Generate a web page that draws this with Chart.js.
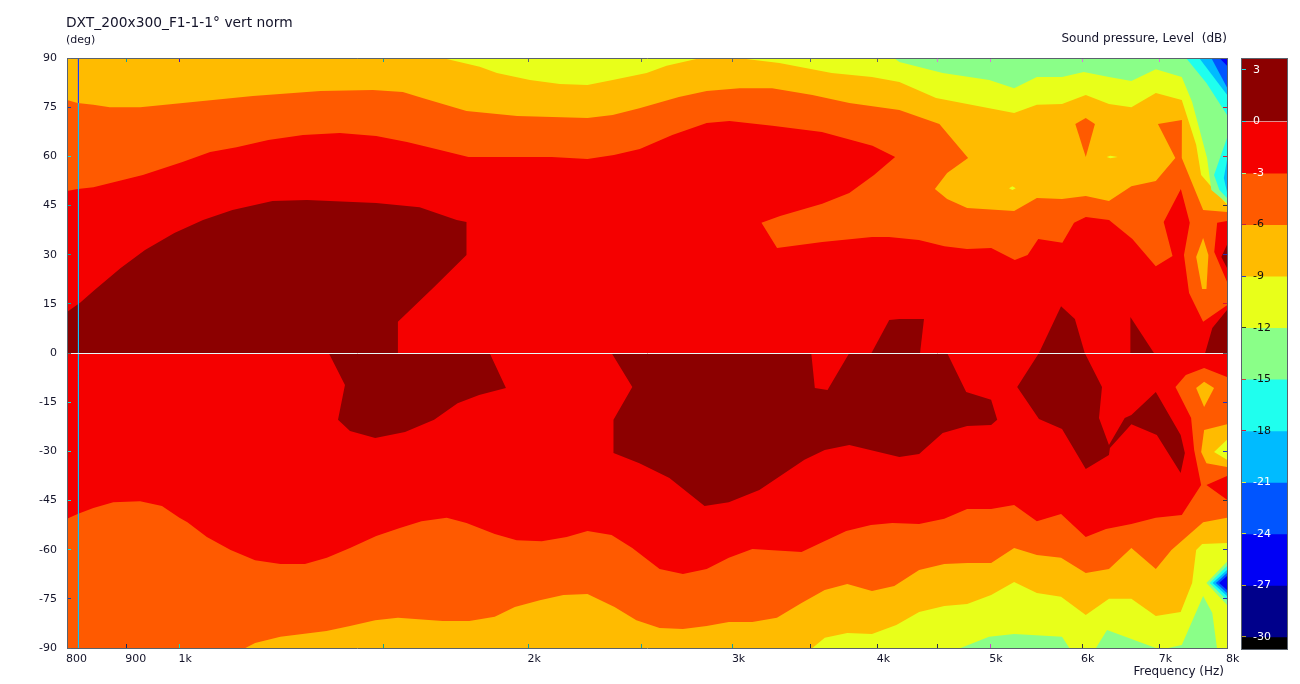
<!DOCTYPE html>
<html>
<head>
<meta charset="utf-8">
<title>DXT_200x300_F1-1-1° vert norm</title>
<script src="https://cdn.jsdelivr.net/npm/chart.js@4"></script>
<style>
    html, body { margin: 0; background: #fff; }
    #chart { position: absolute; left: 0; top: 0; }
    #scaleBox { position: absolute; left: 1241px; top: 58px; width: 45px; height: 590px; border: 1px solid #5a626c; box-sizing: content-box; }
    #scale { display: block; }
</style>
</head>
<body>
<canvas id="chart" width="1300" height="684"></canvas>
<div id="scaleBox"><canvas id="scale" width="45" height="590"></canvas></div>
<script>
// contour outlines, each point is [frequency Hz, angle deg]
const wholePlane = [[800,90],[8000,90],[8000,-90],[800,-90]];

const topOrange = [[800,49.4],[817,50],[843,50.6],[930,54.3],[1006,58.3],[1063,61.3],[1120,62.8],[1193,65],[1278,66.5],[1375,67.1],[1478,66.2],[1571,64.4],[1654,62.5],[1775,59.8],[2094,59.8],[2248,59.2],[2369,60.4],[2494,62.2],[2660,66.5],[2848,70.2],[2980,70.8],[3245,69.3],[3580,67.4],[3958,63.2],[4140,59.8],[3970,54.3],[3780,48.8],[3582,45.5],[3295,41.8],[3175,39.7],[3275,32],[3582,33.9],[3954,35.4],[4090,35.4],[4340,34.5],[4565,32.6],[4775,31.7],[5010,32],[5250,28.4],[5385,29.9],[5500,34.8],[5770,33.6],[5905,39.7],[6045,41.5],[6330,40.6],[6630,34.8],[6945,26.5],[7180,29.6],[7055,40],[7300,50],[7430,39.7],[7345,29.9],[7420,18.3],[7630,9.5],[8000,14.6],[8000,21.7],[7800,30.8],[7845,39.7],[8000,40.3],[8000,90],[800,90]];
const topGold = [[800,77.2],[817,76.3],[843,75.7],[871,75],[925,75],[1027,76.6],[1157,78.4],[1323,79.9],[1468,80.2],[1558,79.6],[1620,77.8],[1768,73.8],[1955,72.3],[2248,71.7],[2363,72.6],[2492,74.7],[2695,78.1],[2848,79.9],[3040,80.8],[3243,80.8],[3513,78.7],[3780,76.3],[4175,74.1],[4520,69.9],[4785,59.5],[4590,54.9],[4480,50],[4590,47],[4776,44.2],[5243,43.3],[5485,47.3],[5766,47],[6044,47.9],[6329,46.4],[6617,50.9],[6946,52.5],[7220,59.5],[6975,69.9],[7315,71.1],[7313,59.5],[7630,43.6],[8000,43],[8000,90],[800,90]];
const topYellow = [[1700,89.7],[1815,87.3],[1878,85.4],[2005,83.3],[2128,82.1],[2248,81.8],[2363,83.3],[2528,85.4],[2630,87.6],[2790,89.7],[3080,89.7],[3290,88.5],[3650,85.4],[3954,84.2],[4175,82.7],[4490,77.8],[5243,73.2],[5485,75.7],[5766,76],[6044,78.7],[6329,76],[6617,75],[6946,79.3],[7313,77.2],[7525,63.5],[7600,54.3],[8000,45.2],[8000,90],[1700,90]];
const topGreen = [[4130,90],[4175,88.8],[4550,85.4],[4990,83.3],[5243,80.8],[5485,84.2],[5766,84.2],[6020,85.7],[6329,84.2],[6617,83],[6946,86.6],[7313,84.2],[7465,76.6],[7690,59.5],[7755,49.7],[8000,45.8],[8000,90]];
const topCyan = [[7375,90],[7680,82.4],[8000,72.6],[8000,90]];
const topSky = [[7570,90],[8000,78.8],[8000,90]];
const topBlue = [[7755,90],[8000,81],[8000,90]];
const topDeep = [[7880,90],[8000,87.6],[8000,90]];
const sideCyan = [[8000,65.6],[7797,54.3],[7880,49.7],[8000,47.3]];
const sideSky = [[8000,58.9],[7950,53.4],[8000,49.1]];

const orangeSpot = [[5920,69.9],[6044,71.7],[6155,69.9],[6044,59.8]];
const goldSpot = [[7630,35.1],[7710,29.9],[7680,19.5],[7615,19.5],[7525,29.3]];
const yellowDotA = [[5190,50.3],[5225,50.9],[5260,50.3],[5225,49.7]];
const yellowDotB = [[6300,59.8],[6345,60.2],[6440,59.8],[6345,59.4]];

const topDark = [[800,0],[800,12.5],[821,15.3],[845,19.2],[890,25.9],[934,31.4],[990,36.6],[1048,40.6],[1111,43.6],[1203,46.4],[1288,46.7],[1478,45.8],[1611,44.5],[1734,40.6],[1768,40],[1768,29.9],[1658,20.1],[1543,9.5],[1543,0]];
const topDarkA = [[3950,0],[4092,10.1],[4175,10.4],[4384,10.4],[4350,0]];
const topDarkB = [[5508,0],[5755,14.3],[5915,10.4],[6032,0]];
const topDarkC = [[6604,11],[6920,0],[6604,0]];
const topDarkD = [[7660,0],[7770,7.6],[8000,13.1],[8000,0]];
const topDarkE = [[8000,33],[7910,29.3],[8000,25.9]];

const lowOrange = [[800,-50.6],[817,-49.1],[843,-47.3],[877,-45.5],[925,-45.2],[966,-46.7],[1000,-50.3],[1016,-51.6],[1056,-56.1],[1107,-60.1],[1162,-63.2],[1222,-64.4],[1283,-64.4],[1340,-62.5],[1403,-59.5],[1478,-55.8],[1549,-53.4],[1617,-51.3],[1700,-50.3],[1768,-51.9],[1870,-55.2],[1953,-57.1],[2053,-57.4],[2157,-56.1],[2248,-54.3],[2358,-55.5],[2457,-59.5],[2594,-65.9],[2717,-67.4],[2848,-65.9],[2976,-62.5],[3118,-59.8],[3438,-60.7],[3582,-57.7],[3757,-54.3],[3946,-52.5],[4117,-51.9],[4342,-52.2],[4564,-50.6],[4776,-47.6],[5009,-47.6],[5243,-46.4],[5485,-51.3],[5755,-49.1],[6044,-56.1],[6292,-53.7],[6617,-52.2],[6946,-50.3],[7313,-49.4],[7600,-40.3],[7495,-29.6],[7450,-19.8],[7222,-10.4],[7372,-6.7],[7645,-4.6],[8000,-7.3],[8000,-37.5],[7680,-40.3],[8000,-44.8],[8000,-90],[800,-90]];
const lowGold = [[1140,-90],[1162,-88.5],[1222,-86.6],[1339,-84.8],[1403,-83.3],[1475,-81.5],[1543,-80.8],[1686,-81.8],[1778,-81.8],[1870,-80.5],[1946,-77.5],[2045,-75.4],[2143,-73.8],[2248,-73.5],[2372,-77.5],[2477,-81.5],[2594,-83.9],[2717,-84.2],[2848,-83.3],[2976,-82.1],[3118,-82.1],[3274,-80.8],[3438,-76.3],[3600,-72.3],[3765,-70.5],[3954,-72.6],[4133,-71.1],[4342,-66.2],[4564,-64.4],[4776,-64.1],[5009,-64.1],[5243,-59.5],[5485,-61.6],[5755,-62.5],[6044,-67.1],[6329,-65.9],[6617,-59.5],[6946,-65.9],[7165,-60.1],[7630,-51.6],[8000,-50.3],[8000,-90]];
const lowYellow = [[3513,-90],[3600,-86.9],[3765,-85.4],[3954,-85.7],[4150,-83],[4342,-79],[4564,-77.2],[4776,-76.6],[5009,-73.8],[5243,-69.9],[5485,-73.2],[5755,-74.4],[6044,-79.9],[6329,-75],[6617,-75],[6946,-80.2],[7297,-79],[7465,-70.2],[7525,-60.1],[7615,-58.3],[8000,-58],[8000,-90]];
const lowGreenA = [[4715,-90],[4988,-86.6],[5243,-85.7],[5766,-86.6],[5850,-90]];
const lowGreenB = [[6168,-90],[6305,-84.5],[6946,-90]];
const lowGreenC = [[7120,-90],[7313,-89.1],[7630,-74.1],[7770,-79.3],[7842,-90]];
const notchGreen = [[7680,-70.2],[8000,-63.7],[8000,-76.9]];
const notchCyan = [[7730,-70.2],[8000,-65],[8000,-75.4]];
const notchSky = [[7775,-70.2],[8000,-66.2],[8000,-74.1]];
const notchBlue = [[7825,-70.2],[8000,-67.1],[8000,-73.2]];
const notchDeep = [[7875,-70.2],[8000,-68],[8000,-72.3]];

const lowGoldA = [[7525,-10.7],[7645,-8.8],[7797,-10.7],[7645,-16.5]];
const lowGoldB = [[8000,-21.7],[7645,-23.5],[7600,-30.2],[7680,-33.6],[8000,-34.8]];
const lowYellowSpot = [[8000,-26.5],[7797,-30.2],[8000,-32.6]];

const lowDarkA = [[1345,0],[1389,-9.8],[1370,-20.4],[1403,-23.8],[1475,-25.9],[1565,-24.1],[1658,-20.4],[1737,-15.3],[1813,-12.8],[1912,-10.7],[1851,0]];
const lowDarkB = [[2358,0],[2457,-10.4],[2367,-20.4],[2367,-30.5],[2492,-33.6],[2645,-38.1],[2836,-46.7],[2976,-45.5],[3162,-41.8],[3458,-32.6],[3600,-29.6],[3780,-28.1],[4175,-31.7],[4342,-30.8],[4550,-24.4],[4776,-22.3],[5009,-22],[5070,-20.4],[5009,-14.3],[4767,-11.9],[4590,0],[3780,0],[3620,-11.3],[3530,-10.7],[3505,0]];
const lowDarkC = [[5508,0],[5275,-10.4],[5508,-20.1],[5766,-23.2],[6044,-35.4],[6329,-31.1],[6341,-29],[6617,-21.7],[6960,-25],[7297,-36.6],[7358,-30.5],[7297,-25],[6946,-11.9],[6617,-18.9],[6530,-19.8],[6329,-28.1],[6205,-19.8],[6242,-10.4],[6032,0]];

// marker line
const markerFreq = 818.4;
const markerSplit = 76.3;

// axes
const freqTicks = [800, 900, 1000, 1500, 2000, 2500, 3000, 3500, 4000, 4500, 5000, 6000, 7000, 8000];
const freqLabels = ["800", "900", "1k", "", "2k", "", "3k", "", "4k", "", "5k", "6k", "7k", "8k"];
const angleTicks = [90, 75, 60, 45, 30, 15, 0, -15, -30, -45, -60, -75, -90];

// colour scale
const levelTicks = [3, 0, -3, -6, -9, -12, -15, -18, -21, -24, -27, -30];
const levelTop = [3.64, 0, -3, -6, -9, -12, -15, -18, -21, -24, -27, -30];
const levelBottom = [0, -3, -6, -9, -12, -15, -18, -21, -24, -27, -30, -30.7];

const DARK = "#8c0000", RED = "#f50000", ORANGE = "#ff5a00", GOLD = "#ffbb00", YELLOW = "#e8ff1a",
      GREEN = "#8aff88", CYAN = "#1fffee", SKY = "#00bbff", BLUE = "#0055ff", DEEP = "#0000f5", NAVY = "#00008b";
const levelColors = [DARK, RED, ORANGE, GOLD, YELLOW, GREEN, CYAN, SKY, BLUE, DEEP, NAVY, "#000000"];
const levelTextColors = ["#fff", "#fff", "#fff", "#111", "#111", "#111", "#111", "#111", "#fff", "#fff", "#fff", "#fff"];
const levelTickColors = ["#1fd8e0", "#1fd8e0", "#9aff9a", "#c02040", "#3040c0", "#304020", "#d04040", "#e01030", "#e8f040", "#d8e030", "#c0b020", "#b0a020"];

// painted from the outside in, later ones cover earlier ones
const layers = [
    [wholePlane, RED],
    [topOrange, ORANGE], [topGold, GOLD], [orangeSpot, ORANGE], [goldSpot, GOLD], [yellowDotA, YELLOW], [yellowDotB, YELLOW],
    [topYellow, YELLOW], [topGreen, GREEN], [topCyan, CYAN], [topSky, SKY], [topBlue, BLUE], [topDeep, DEEP],
    [sideCyan, CYAN], [sideSky, SKY],
    [topDark, DARK], [topDarkA, DARK], [topDarkB, DARK], [topDarkC, DARK], [topDarkD, DARK], [topDarkE, DARK],
    [lowOrange, ORANGE], [lowGold, GOLD], [lowGoldA, GOLD], [lowGoldB, GOLD], [lowYellowSpot, YELLOW],
    [lowYellow, YELLOW], [lowGreenA, GREEN], [lowGreenB, GREEN], [lowGreenC, GREEN],
    [notchGreen, GREEN], [notchCyan, CYAN], [notchSky, SKY], [notchBlue, BLUE], [notchDeep, DEEP],
    [lowDarkA, DARK], [lowDarkB, DARK], [lowDarkC, DARK]
];

function toPoints(list) {
    return list.map(p => ({ x: p[0], y: p[1] }));
}

let datasets = layers.map(l => ({
    data: toPoints(l[0]),
    showLine: true,
    fill: "shape",
    backgroundColor: l[1],
    borderWidth: 0,
    pointRadius: 0
}));

// first dataset is drawn last, so the marker goes first and the layers are flipped
datasets.reverse();
datasets.unshift(
    { data: [{ x: markerFreq, y: 90 }, { x: markerFreq, y: markerSplit }], showLine: true, borderColor: "#1a3cff", borderWidth: 1, pointRadius: 0 },
    { data: [{ x: markerFreq, y: markerSplit }, { x: markerFreq, y: -90 }], showLine: true, borderColor: "#08c4ff", borderWidth: 1, pointRadius: 0 }
);

const INK = "#14142a";
const TICK_FONT = { family: "DejaVu Sans", size: 11 };
const FRAME = { color: "#5a626c", width: 1, z: 1 };

const pageTexts = [
    { text: "DXT_200x300_F1-1-1° vert norm", x: 66, y: 23, align: "left", size: 13.8 },
    { text: "(deg)", x: 66, y: 40, align: "left", size: 11 },
    { text: "Sound pressure, Level  (dB)", x: 1227, y: 39, align: "right", size: 12 },
    { text: "Frequency (Hz)", x: 1224, y: 672, align: "right", size: 12 }
];

const pageTextPlugin = {
    id: "pageText",
    afterDraw(chart) {
        let ctx = chart.ctx;
        ctx.save();
        ctx.fillStyle = INK;
        ctx.textBaseline = "middle";
        pageTexts.forEach(t => {
            ctx.font = t.size + "px 'DejaVu Sans'";
            ctx.textAlign = t.align;
            ctx.fillText(t.text, t.x, t.y);
        });
        ctx.restore();
    }
};

function freqAxis(position, fitHeight, colors, showLabels) {
    return {
        type: "logarithmic",
        position: position,
        min: 800,
        max: 8000,
        afterBuildTicks: s => { s.ticks = freqTicks.map(v => ({ value: v })); },
        afterFit: s => { s.height = fitHeight; },
        border: FRAME,
        grid: { drawOnChartArea: false, tickLength: -4, tickWidth: 1, tickColor: colors, z: 1 },
        ticks: {
            display: showLabels,
            autoSkip: false,
            maxRotation: 0,
            align: "start",
            labelOffset: -1,
            padding: 9,
            color: INK,
            font: TICK_FONT,
            callback: (v, i) => freqLabels[i]
        }
    };
}

function angleAxis(position, fitWidth, colors, showLabels) {
    return {
        position: position,
        min: -90,
        max: 90,
        afterBuildTicks: s => { s.ticks = angleTicks.map(v => ({ value: v })); },
        afterFit: s => { s.width = fitWidth; },
        border: FRAME,
        grid: {
            // the only line across the plot is the one at 0 deg
            drawOnChartArea: showLabels,
            color: c => (c.tick && c.tick.value === 0 ? "#e8f8f8" : "transparent"),
            tickLength: -4,
            tickWidth: 1,
            tickColor: colors,
            z: 1
        },
        ticks: { display: showLabels, autoSkip: false, padding: 14, color: INK, font: TICK_FONT }
    };
}

let bottomTickColors = ["#0a2a6a", "#0a2a6a", "#10e0c0", "#10a090", "#10a0a0", "#10a0a0", "#10a0a0", "#303040", "#303040", "#303040", "#d040d0", "#303040", "#303040", "#303040"];
let topTickColors = ["#606870", "#10a0a0", "#5010c0", "#10a0a0", "#606870", "#606870", "#606870", "#606870", "#606870", "#e070e0", "#e070e0", "#e070e0", "#e070e0", "#606870"];
let leftTickColors = ["#606870", "#2040a0", "#10e0e0", "#10a0a0", "#10a0a0", "#10a0a0", "#606870", "#10e0e0", "#10e0e0", "#10e0e0", "#10e0e0", "#2040a0", "#606870"];
let rightTickColors = ["#606870", "#e01030", "#e01030", "#303040", "#2030c0", "#e01030", "#606870", "#2030c0", "#2030c0", "#303040", "#2030c0", "#2030c0", "#606870"];

new Chart(document.getElementById("chart"), {
    type: "scatter",
    data: { datasets: datasets },
    options: {
        responsive: false,
        animation: false,
        events: [],
        plugins: { legend: { display: false }, tooltip: { enabled: false } },
        layout: { padding: 0 },
        scales: {
            x: freqAxis("bottom", 36, bottomTickColors, true),
            x2: freqAxis("top", 58, topTickColors, false),
            y: angleAxis("left", 67, leftTickColors, true),
            y2: angleAxis("right", 73, rightTickColors, false)
        }
    },
    plugins: [pageTextPlugin]
});

new Chart(document.getElementById("scale"), {
    type: "bar",
    data: {
        labels: [""],
        datasets: levelColors.map((c, i) => ({
            data: [[levelBottom[i], levelTop[i]]],
            backgroundColor: c,
            borderWidth: 0,
            grouped: false,
            barPercentage: 1,
            categoryPercentage: 1
        }))
    },
    options: {
        responsive: false,
        animation: false,
        events: [],
        plugins: { legend: { display: false }, tooltip: { enabled: false } },
        layout: { padding: 0 },
        scales: {
            x: { display: false },
            y: {
                min: -30.7,
                max: 3.64,
                afterBuildTicks: s => { s.ticks = levelTicks.map(v => ({ value: v })); },
                afterFit: s => { s.width = 0; s.paddingTop = 0; s.paddingBottom = 0; },
                border: { display: false },
                grid: { drawOnChartArea: false, tickLength: -4, tickWidth: 1, tickColor: levelTickColors, z: 1 },
                ticks: { mirror: true, autoSkip: false, padding: 11, color: levelTextColors, font: TICK_FONT, z: 1 }
            }
        }
    }
});
</script>
</body>
</html>
